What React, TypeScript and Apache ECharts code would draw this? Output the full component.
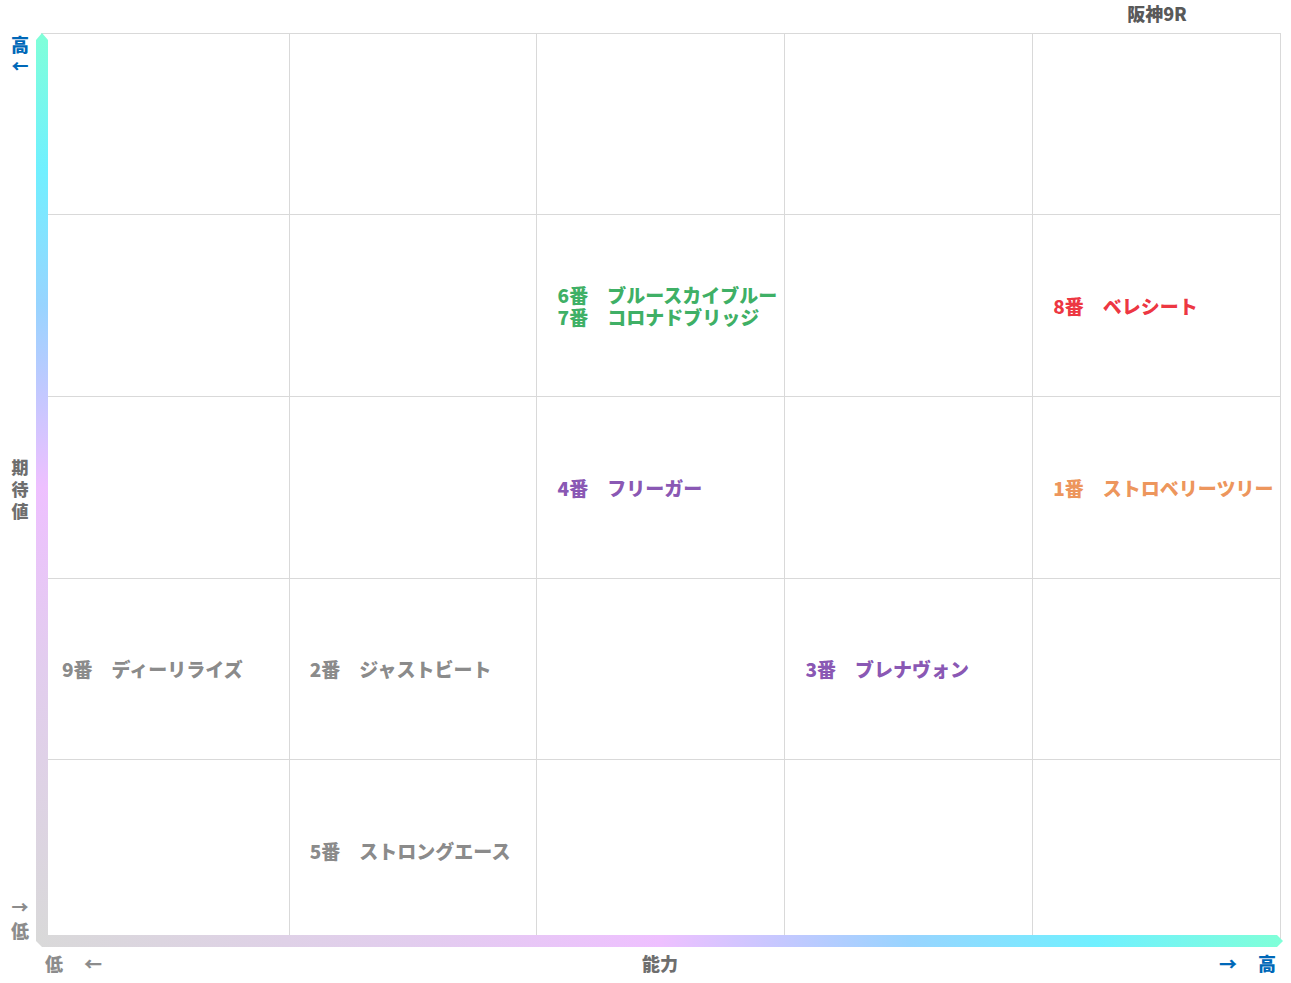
import React, { useEffect, useRef } from "react";
import * as echarts from "echarts";

const horseNumbers = [1, 2, 3, 4, 5, 6, 7, 8, 9];
const horseNames = [
  "ストロベリーツリー",
  "ジャストビート",
  "ブレナヴォン",
  "フリーガー",
  "ストロングエース",
  "ブルースカイブルー",
  "コロナドブリッジ",
  "ベレシート",
  "ディーリライズ",
];
// cell index on the 能力 (ability) axis, 0 = lowest
const abilityCell = [4, 1, 3, 2, 1, 2, 2, 4, 0];
// cell index on the 期待値 (expectation) axis, 0 = lowest
const expectCell = [2, 1, 1, 2, 0, 3, 3, 3, 1];
const horseColors = [
  "#e87930",
  "#6b6b6b",
  "#6a2aa0",
  "#6a2aa0",
  "#6b6b6b",
  "#0a9a3c",
  "#0a9a3c",
  "#e8000e",
  "#6b6b6b",
];

const title = "阪神9R";
const xAxisName = "能力";
const yAxisName = "期待値";
const highLabel = "高";
const lowLabel = "低";
const cellCount = 5;

const FONT = '"Noto Sans CJK JP", "Noto Sans", sans-serif';
const BLUE = "#0068b8";
const GREY = "#8c8c8c";
const DARK = "#6e6e6e";

const gradStops = [
  { offset: 0, color: "#d9d9d9" },
  { offset: 0.3, color: "#e2cdee" },
  { offset: 0.5, color: "#eec0ff" },
  { offset: 0.6, color: "#c4c8ff" },
  { offset: 0.7, color: "#98d4ff" },
  { offset: 0.85, color: "#70f0ff" },
  { offset: 1, color: "#80ffd8" },
];

export default function App() {
  const ref = useRef<HTMLDivElement>(null);

  useEffect(() => {
    if (!ref.current) return;
    const chart = echarts.init(ref.current, undefined, { renderer: "svg" });

    // group horses by cell
    const cells = new Map<string, { col: number; row: number; idx: number[] }>();
    horseNumbers.forEach((n, i) => {
      const key = abilityCell[i] + "-" + expectCell[i];
      if (!cells.has(key)) cells.set(key, { col: abilityCell[i], row: expectCell[i], idx: [] });
      cells.get(key)!.idx.push(i);
    });

    const rich: Record<string, any> = {};
    horseNumbers.forEach((n, i) => {
      rich["h" + i] = {
        color: horseColors[i],
        fontSize: 19,
        fontWeight: 900,
        fontFamily: FONT,
        lineHeight: 22,
      };
    });

    const data = Array.from(cells.values()).map((c) => ({
      value: [c.col, c.row + 0.5],
      label: {
        formatter: c.idx
          .map((i) => `{h${i}|${horseNumbers[i]}番　${horseNames[i]}}`)
          .join("\n"),
      },
    }));

    const txt = (text: string, x: number, y: number, color: string, size = 18) => ({
      type: "text",
      x,
      y,
      z: 110,
      style: {
        text,
        fill: color,
        font: `900 ${size}px ${FONT}`,
        textAlign: "center",
        textVerticalAlign: "middle",
      },
    });

    const yNameChars = yAxisName.split("").map((ch, k) => txt(ch, 20, 466 + k * 22, DARK, 17));

    chart.setOption({
      animation: false,
      grid: { left: 41, top: 33, right: 11, bottom: 42 },
      xAxis: {
        type: "value",
        min: 0,
        max: cellCount,
        interval: 1,
        axisLine: { show: false },
        axisTick: { show: false },
        axisLabel: { show: false },
        splitLine: { show: true, lineStyle: { color: "#d9d9d9", width: 1 } },
      },
      yAxis: {
        type: "value",
        min: 0,
        max: cellCount,
        interval: 1,
        axisLine: { show: false },
        axisTick: { show: false },
        axisLabel: { show: false },
        splitLine: { show: true, lineStyle: { color: "#d9d9d9", width: 1 } },
      },
      series: [
        {
          type: "scatter",
          symbolSize: 0,
          data,
          label: {
            show: true,
            position: "right",
            distance: 21,
            rich,
          },
        },
      ],
      graphic: [
        {
          type: "polygon",
          z: 100,
          shape: {
            points: [
              [36, 40],
              [42, 33],
              [48, 40],
              [48, 935],
              [36, 941],
            ],
          },
          style: { fill: new echarts.graphic.LinearGradient(0, 1, 0, 0, gradStops) },
        },
        {
          type: "polygon",
          z: 100,
          shape: {
            points: [
              [36, 935],
              [1277, 935],
              [1283, 941],
              [1277, 947],
              [42, 947],
              [36, 941],
            ],
          },
          style: { fill: new echarts.graphic.LinearGradient(0, 0, 1, 0, gradStops) },
        },
        txt(title, 1157, 13, "#595959"),
        txt(highLabel, 20, 44, BLUE),
        txt("←", 20, 65, BLUE, 17),
        ...yNameChars,
        txt("→", 20, 906, GREY, 17),
        txt(lowLabel, 20, 930, GREY),
        txt(lowLabel, 54, 963, GREY),
        txt("←", 93, 963, GREY, 18),
        txt(xAxisName, 660, 963, DARK),
        txt("→", 1228, 963, BLUE, 18),
        txt(highLabel, 1267, 963, BLUE),
      ],
    });

    return () => chart.dispose();
  }, []);

  return (
    <div
      ref={ref}
      style={{ position: "fixed", left: 0, top: 0, width: 1291, height: 983, background: "#fff" }}
    />
  );
}
